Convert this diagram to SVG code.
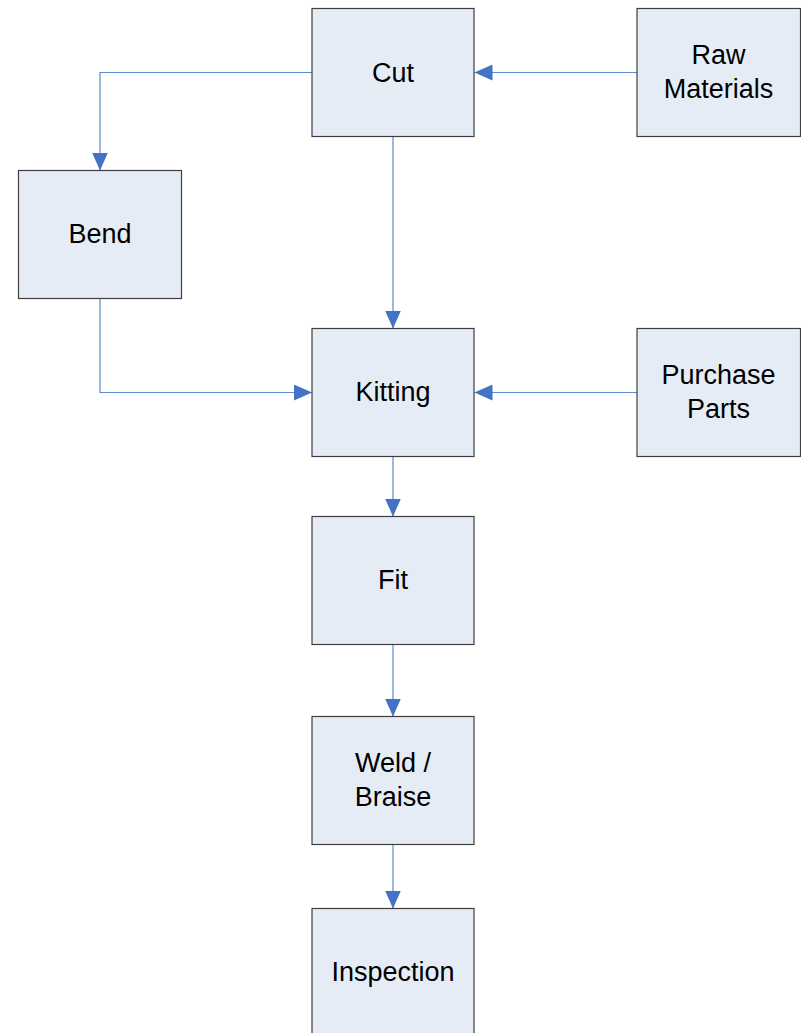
<svg xmlns="http://www.w3.org/2000/svg" width="801" height="1033" viewBox="0 0 801 1033">
  <style>
    .box { fill: #E6ECF6; stroke: #3F3F3F; stroke-width: 1.2; }
    .lbl { font-family: "Liberation Sans", Arial, sans-serif; font-size: 27px; fill: #000; text-anchor: middle; }
    .edge { fill: none; stroke: #5A8ACF; stroke-width: 1.2; marker-end: url(#arrow); }
  </style>
  <defs>
    <marker id="arrow" viewBox="0 0 18 16" refX="18" refY="8" markerWidth="18" markerHeight="16" markerUnits="userSpaceOnUse" orient="auto">
      <path d="M0,0 L18,8 L0,16 Z" fill="#4472C4"/>
    </marker>
  </defs>

  <rect width="801" height="1033" fill="#FFFFFF"/>

  <!-- connectors -->
  <g id="connectors">
    <path class="edge" d="M312,72.5 H100 V170.5"/>
    <path class="edge" d="M637,72.5 H474.5"/>
    <path class="edge" d="M393,136.5 V328.5"/>
    <path class="edge" d="M100,298.5 V392.5 H312"/>
    <path class="edge" d="M637,392.5 H474.5"/>
    <path class="edge" d="M393,456.5 V516.5"/>
    <path class="edge" d="M393,644.5 V716.5"/>
    <path class="edge" d="M393,844.5 V908.5"/>
  </g>

  <!-- process steps -->
  <g id="cut">
    <rect class="box" x="312" y="8.5" width="162" height="128"/>
    <text class="lbl" x="393" y="82">Cut</text>
  </g>
  <g id="raw-materials">
    <rect class="box" x="637" y="8.5" width="163.5" height="128"/>
    <text class="lbl" x="718.5" y="64">Raw</text>
    <text class="lbl" x="718.5" y="98">Materials</text>
  </g>
  <g id="bend">
    <rect class="box" x="18.5" y="170.5" width="163" height="128"/>
    <text class="lbl" x="100" y="243">Bend</text>
  </g>
  <g id="kitting">
    <rect class="box" x="312" y="328.5" width="162" height="128"/>
    <text class="lbl" x="393" y="401">Kitting</text>
  </g>
  <g id="purchase-parts">
    <rect class="box" x="637" y="328.5" width="163.5" height="128"/>
    <text class="lbl" x="718.5" y="384">Purchase</text>
    <text class="lbl" x="718.5" y="418">Parts</text>
  </g>
  <g id="fit">
    <rect class="box" x="312" y="516.5" width="162" height="128"/>
    <text class="lbl" x="393" y="589">Fit</text>
  </g>
  <g id="weld-braise">
    <rect class="box" x="312" y="716.5" width="162" height="128"/>
    <text class="lbl" x="393" y="772">Weld /</text>
    <text class="lbl" x="393" y="806">Braise</text>
  </g>
  <g id="inspection">
    <rect class="box" x="312" y="908.5" width="162" height="128"/>
    <text class="lbl" x="393" y="981">Inspection</text>
  </g>
</svg>
